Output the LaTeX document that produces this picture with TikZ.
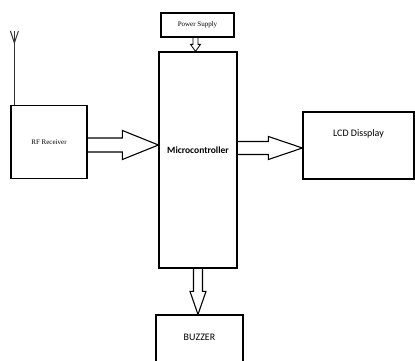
\documentclass[tikz,border=0pt]{standalone}
\usepackage{fontspec}
\setmainfont{Liberation Serif}
\newfontfamily\calib{Carlito}
\usetikzlibrary{calc}
\tikzset{
  px/.style={x=1pt, y=-1pt},
  d box/.style={draw, line width=1.2pt, inner sep=0pt},
  d ser/.style={font=\fontsize{7}{8}\selectfont},
  d sans/.style={font=\calib\fontsize{10}{12}\selectfont},
  d bold/.style={font=\calib\bfseries\fontsize{9.5}{11}\selectfont},
  d blk/.style={draw, line width=1.1pt, line join=miter},
  d ant/.style={line width=1pt, black!80},
}
\begin{document}
\begin{tikzpicture}[px]
\path[use as bounding box, clip] (0,0) rectangle (415,361);
% blocks
\node[d box, d ser, minimum width=73pt, minimum height=24pt] (ps) at (197.5,25) {Power Supply};
\node[d box, minimum width=78pt, minimum height=216pt, label={[d bold, yshift=10pt]center:Microcontroller}] (mc) at (198,160) {};
\node[d box, d ser, minimum width=76pt, minimum height=73pt] (rf) at (49,142) {RF Receiver};
\node[d box, minimum width=111pt, minimum height=67pt, label={[d sans, yshift=11.5pt]center:LCD Dissplay}] (lcd) at (358.5,145.5) {};
\node[d box, minimum width=87pt, minimum height=52pt, label={[d sans, yshift=4pt]center:BUZZER}] (bz) at (199.5,341) {};
% antenna
\coordinate (ant) at ([xshift=4pt]rf.north west);
\draw[d ant] (ant) -- ++(0,-74);
\draw[d ant] ($(ant)+(-4,-74)$) -- ($(ant)+(0,-62)$) -- ($(ant)+(4,-74)$);
% block arrows
\coordinate (ra) at ([yshift=-3pt]rf.east); \coordinate (rb) at (mc.west |- ra);
\draw[d blk] ($(ra)+(0,-7)$) -- ($(rb)+(-36,-7)$) -- ($(rb)+(-36,-14.5)$) -- (rb) -- ($(rb)+(-36,14.5)$) -- ($(rb)+(-36,7)$) -- ($(ra)+(0,7)$);
\coordinate (la) at ([yshift=12pt]mc.east); \coordinate (lb) at (lcd.west |- la);
\draw[d blk] ($(la)+(0,-6.5)$) -- ($(lb)+(-34,-6.5)$) -- ($(lb)+(-34,-11.5)$) -- (lb) -- ($(lb)+(-34,11.5)$) -- ($(lb)+(-34,6.5)$) -- ($(la)+(0,6.5)$);
\coordinate (pa) at ([xshift=-2pt]ps.south); \coordinate (pb) at (pa |- mc.north);
\draw[d blk, line width=0.8pt] ($(pa)+(-2.5,0)$) -- ($(pb)+(-2.5,-7)$) -- ($(pb)+(-5,-7)$) -- (pb) -- ($(pb)+(5,-7)$) -- ($(pb)+(2.5,-7)$) -- ($(pa)+(2.5,0)$);
\coordinate (ba) at (mc.south); \coordinate (bb) at (ba |- bz.north);
\draw[d blk] ($(ba)+(-4.5,0)$) -- ($(bb)+(-4.5,-23)$) -- ($(bb)+(-8,-23)$) -- (bb) -- ($(bb)+(8,-23)$) -- ($(bb)+(4.5,-23)$) -- ($(ba)+(4.5,0)$);
\end{tikzpicture}
\end{document}
